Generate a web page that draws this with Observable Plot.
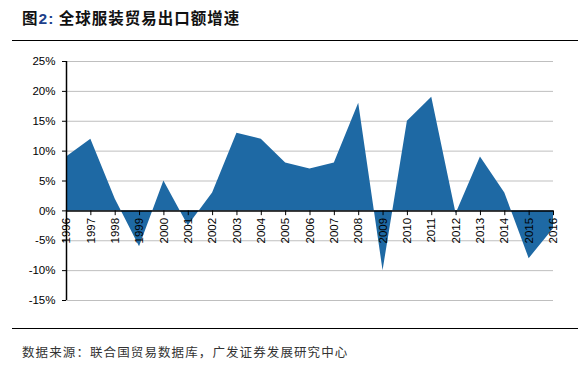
<!DOCTYPE html>
<html>
<head>
<meta charset="utf-8">
<script src="https://cdn.jsdelivr.net/npm/d3@7"></script>
<script src="https://cdn.jsdelivr.net/npm/@observablehq/plot@0.6"></script>
<style>
  html, body { margin: 0; padding: 0; background: #fff; }
  #wrap { position: relative; width: 587px; height: 366px; overflow: hidden; }
  #title { position: absolute; left: 22px; top: 5px; font-family: "Noto Sans CJK SC", sans-serif; font-size: 15.5px; font-weight: 700; color: #111; line-height: 24px; white-space: nowrap; letter-spacing: 1px; }
  #title .num { color: #1d3f8a; font-family: "Liberation Sans", Arial, sans-serif; }
  #frame { position: absolute; left: 12px; top: 40px; width: 566px; height: 287px; border-top: 1.5px solid #000; border-bottom: 1.5px solid #000; }
  #chart { position: absolute; left: 0; top: 42px; }
  #source { position: absolute; left: 22px; top: 342px; font-family: "Noto Sans CJK SC", sans-serif; font-size: 12.5px; letter-spacing: 1.1px; color: #333; line-height: 20px; white-space: nowrap; }
</style>
</head>
<body>
<div id="wrap">
  <div id="title">图<span class="num">2:</span> 全球服装贸易出口额增速</div>
  <div id="frame"></div>
  <div id="chart"></div>
  <div id="source">数据来源：联合国贸易数据库，广发证券发展研究中心</div>
</div>
<script>
const years = [1996, 1997, 1998, 1999, 2000, 2001, 2002, 2003, 2004, 2005, 2006, 2007, 2008, 2009, 2010, 2011, 2012, 2013, 2014, 2015, 2016];
const growth = [9, 12, 2, -6, 5, -2.5, 3, 13, 12, 8, 7, 8, 18, -10, 15, 19, -0.5, 9, 3, -8, -3];
const yTicks = [-15, -10, -5, 0, 5, 10, 15, 20, 25];
const yTickLabels = ["-15%", "-10%", "-5%", "0%", "5%", "10%", "15%", "20%", "25%"];

const data = years.map((year, i) => ({year, value: growth[i]}));
const fontFam = '"Liberation Sans Narrow", "Liberation Sans", Arial, sans-serif';

const chart = Plot.plot({
  width: 587,
  height: 286,
  marginLeft: 66,
  marginRight: 34,
  marginTop: 19,
  marginBottom: 28,
  style: {fontFamily: fontFam, fontSize: "11.5px", color: "#000", background: "transparent"},
  x: {domain: [1996, 2016], axis: null},
  y: {domain: [-15, 25], axis: null},
  marks: [
    Plot.ruleY(yTicks.filter(d => d !== 0), {stroke: "#BFBFBF", strokeWidth: 1}),
    Plot.areaY(data, {x: "year", y: "value", fill: "#1E69A4", curve: "linear"}),
    Plot.ruleY([0], {stroke: "#000", strokeWidth: 1.5}),
    Plot.ruleX([1996], {y1: -15, y2: 25, stroke: "#000", strokeWidth: 1.5}),
    Plot.ruleX(years, {x: d => d, y1: 0, y2: -0.8, stroke: "#000", strokeWidth: 1}),
    Plot.axisY(yTicks, {label: null, tickSize: 4, tickPadding: 7, tickFormat: d => yTickLabels[yTicks.indexOf(d)], fontSize: 11.5, stroke: "#000", fill: "#000"}),
    Plot.text(years, {x: d => d, y: 0, text: d => String(d), rotate: -90, textAnchor: "end", dy: 7, fontSize: 11.5, fill: "#000"})
  ]
});
document.getElementById("chart").appendChild(chart);
</script>
</body>
</html>
